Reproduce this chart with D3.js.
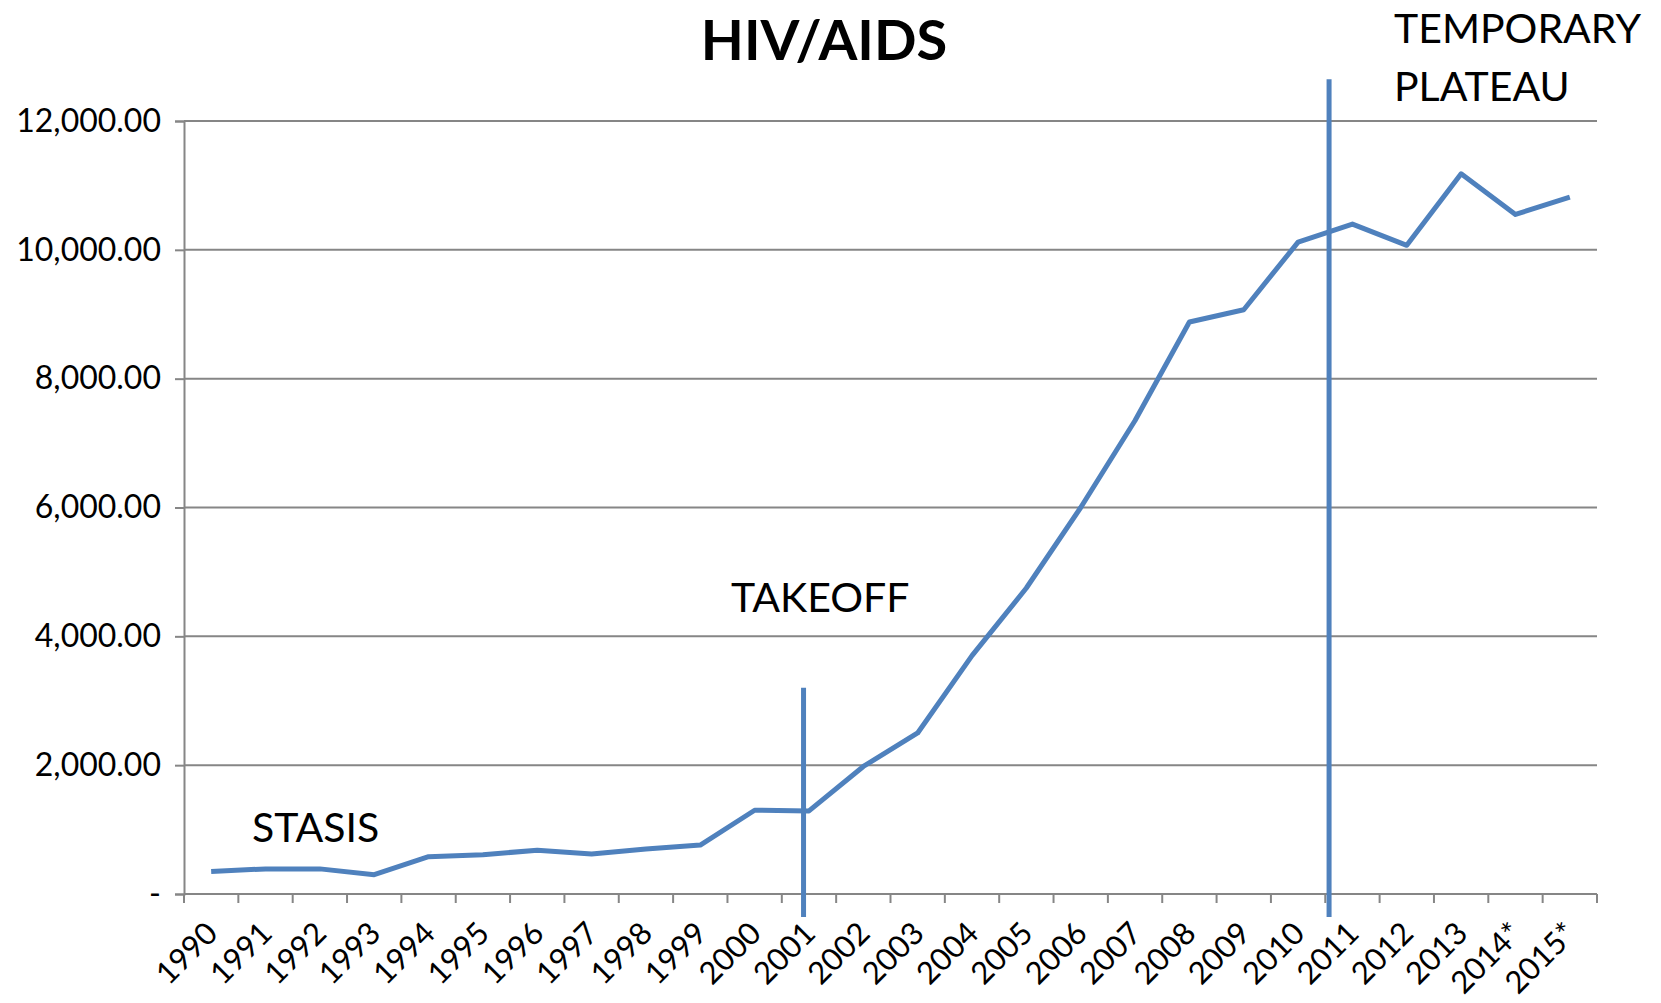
<!DOCTYPE html>
<html>
<head>
<meta charset="utf-8">
<script src="https://cdn.jsdelivr.net/npm/d3@7"></script>
<style>
  html, body { margin: 0; padding: 0; background: #fff; }
  text { font-family: Lato, "Open Sans", sans-serif; }
</style>
</head>
<body>
<div id="viz"></div>
<script>
// chart data
const years = ["1990","1991","1992","1993","1994","1995","1996","1997","1998","1999",
               "2000","2001","2002","2003","2004","2005","2006","2007","2008","2009",
               "2010","2011","2012","2013","2014*","2015*"]
const values = [350, 390, 390, 300, 580, 610, 680, 620, 700, 760,
                1300, 1290, 1980, 2500, 3700, 4750, 6000, 7350, 8880, 9070,
                10120, 10400, 10070, 11180, 10550, 10820]
const yTicks = [0, 2000, 4000, 6000, 8000, 10000, 12000]

// phase markers (vertical lines) and phase labels
const markerYears = ["2001", "2011"]
const markerTops = [3200, 12650]
const phaseLabels = [["STASIS"], ["TAKEOFF"], ["TEMPORARY", "PLATEAU"]]

document.addEventListener("DOMContentLoaded", () => {
    const width = 1661
    const height = 1003
    const margin = { top: 121, right: 64, bottom: 109, left: 184 }
    const innerW = width - margin.left - margin.right
    const innerH = height - margin.top - margin.bottom

    const blue = "#4f81bd"
    const grey = "#868686"

    const svg = d3.select("#viz").append("svg")
        .attr("width", width)
        .attr("height", height)
        .style("background", "#fff")

    const g = svg.append("g").attr("transform", `translate(${margin.left},${margin.top})`)

    const x = d3.scaleBand().domain(years).range([0, innerW]).padding(0)
    const y = d3.scaleLinear().domain([0, 12000]).range([innerH, 0])

    // gridlines
    g.selectAll(".grid")
        .data(yTicks.filter(d => d > 0))
        .enter().append("line")
        .attr("x1", 0).attr("x2", innerW)
        .attr("y1", d => y(d)).attr("y2", d => y(d))
        .attr("stroke", grey).attr("stroke-width", 2)

    // y axis
    const yAxis = g.append("g")
        .call(d3.axisLeft(y).tickValues(yTicks).tickSize(9).tickPadding(14)
            .tickFormat(d => d === 0 ? "-" : d3.format(",.2f")(d)))
    yAxis.select(".domain").attr("stroke", grey).attr("stroke-width", 2)
    yAxis.selectAll(".tick line").attr("stroke", grey).attr("stroke-width", 2)
    yAxis.selectAll(".tick text")
        .style("font-family", "Lato, 'Open Sans', sans-serif")
        .style("font-size", "32px").attr("fill", "#000")

    // x axis: line + boundary ticks
    g.append("line")
        .attr("x1", 0).attr("x2", innerW)
        .attr("y1", innerH).attr("y2", innerH)
        .attr("stroke", grey).attr("stroke-width", 2)
    const bounds = years.map(d => x(d)).concat([innerW])
    g.selectAll(".xtick")
        .data(bounds)
        .enter().append("line")
        .attr("x1", d => d).attr("x2", d => d)
        .attr("y1", innerH).attr("y2", innerH + 9)
        .attr("stroke", grey).attr("stroke-width", 2)

    g.selectAll(".xlabel")
        .data(years)
        .enter().append("text")
        .attr("transform", d => `translate(${x(d) + x.bandwidth() / 2 - 7},${innerH + 26}) rotate(-45)`)
        .attr("text-anchor", "end")
        .attr("dy", "0.7em")
        .style("font-size", "31px")
        .text(d => d)

    // data line
    const line = d3.line()
        .x((d, i) => x(years[i]) + x.bandwidth() / 2)
        .y(d => y(d))
    g.append("path")
        .datum(values)
        .attr("d", line)
        .attr("fill", "none")
        .attr("stroke", blue)
        .attr("stroke-width", 5)
        .attr("stroke-linejoin", "round")

    // phase marker lines
    const markerX = [x(markerYears[0]) + x.bandwidth() * 0.4, x(markerYears[1]) + x.bandwidth() * 0.07]
    g.selectAll(".marker")
        .data(markerTops)
        .enter().append("line")
        .attr("x1", (d, i) => markerX[i]).attr("x2", (d, i) => markerX[i])
        .attr("y1", d => y(d)).attr("y2", innerH + 23)
        .attr("stroke", blue).attr("stroke-width", 5)

    // phase labels
    const labelPos = [[252, 842], [731, 612], [1394, 43]]
    phaseLabels.forEach((lines, i) => {
        const t = svg.append("text")
            .attr("x", labelPos[i][0]).attr("y", labelPos[i][1])
            .style("font-size", "41px")
        lines.forEach((s, j) => {
            t.append("tspan").attr("x", labelPos[i][0]).attr("dy", j === 0 ? 0 : 58).text(s)
        })
    })

    // title
    svg.append("text")
        .attr("x", 824).attr("y", 60)
        .attr("text-anchor", "middle")
        .style("font-size", "56px")
        .style("font-weight", "bold")
        .text("HIV/AIDS")
})
</script>
</body>
</html>
